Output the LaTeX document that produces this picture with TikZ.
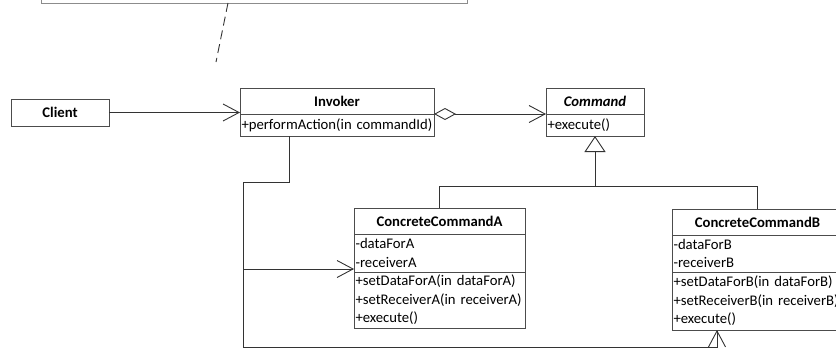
\documentclass[tikz,border=0pt]{standalone}
\usepackage{fontspec}
\setmainfont{Carlito}
\usetikzlibrary{positioning}
\usetikzlibrary{arrows.meta}
\tikzset{umlbox/.style={draw=black!70, line width=0.9pt, inner sep=0pt, outer sep=0pt,
   font=\fontsize{14.7}{18.5}\selectfont},
 classname/.style={umlbox, font=\fontsize{14.7}{18.5}\selectfont\bfseries,
   minimum height=26pt, minimum width=#1},
 members/.style={umlbox, align=left, inner xsep=1.5pt, text width=#1},
 link/.style={draw=black!80, line width=0.9pt},
 assoc/.style={link, -{Straight Barb[length=16pt,width=17pt]}},
 aggr/.style={link, {Diamond[open,length=22pt,width=12pt]}-{Straight Barb[length=16pt,width=17pt]}},
 inherit/.style={link, -{Triangle[open,length=16pt,width=21pt]}},
 memo/.style={draw=black!45, line width=0.9pt},
 }

\begin{document}
\begin{tikzpicture}[x=1pt, y=-1pt]
        \useasboundingbox (0,0) rectangle (836,348);
        \clip (0,0) rectangle (836,348);

        % note, cut off by the frame
        \node[memo, minimum width=426pt, minimum height=40pt] (note) at (254,-17) {};
        \coordinate (dashtop) at (228,3);
        \coordinate (dashend) at (216,62);
        \draw[link, dash pattern=on 9pt off 5pt] (dashtop) -- (dashend);

        \node[classname=98pt, minimum height=27pt] (client) at (60,112.5) {Client};

        \node[classname=194pt, anchor=north] (invname) at (337,88) {Invoker};
        \node[members=191pt, minimum height=22pt, below=0pt of invname] (invops) {+performAction(in commandId)};

        \node[classname=98pt, anchor=north] (cmdname) at (595,88) {\textit{Command}};
        \node[members=95pt, minimum height=22pt, below=0pt of cmdname] (cmdops) {+execute()};

        \node[classname=171pt, anchor=north] (ccaname) at (439.5,208) {ConcreteCommandA};
        \node[members=168pt, minimum height=38pt, below=0pt of ccaname] (ccaattr) {-dataForA\\-receiverA};
        \node[members=168pt, minimum height=56pt, below=0pt of ccaattr] (ccaops) {+setDataForA(in dataForA)\\+setReceiverA(in receiverA)\\+execute()};

        \node[classname=171pt, anchor=north] (ccbname) at (757.5,209) {ConcreteCommandB};
        \node[members=168pt, minimum height=37pt, below=0pt of ccbname] (ccbattr) {-dataForB\\-receiverB};
        \node[members=168pt, minimum height=58pt, below=0pt of ccbattr] (ccbops) {+setDataForB(in dataForB)\\+setReceiverB(in receiverB)\\+execute()};

        \draw[assoc] (client.east) -- (client.east -| invname.west);
        \draw[aggr] (invname.south east) -- (cmdname.south west);

        \coordinate (genjoin) at (595,186);
        \draw[inherit] (ccaname.north) |- (genjoin) -- (cmdops.south);
        \draw[link] (ccbname.north) |- (genjoin);

        \coordinate (bend) at (243,182);
        \coordinate (floor) at (243,347);
        \draw[assoc] ([xshift=-48pt]invops.south) |- (bend) |- ([yshift=-16pt]ccaattr.west);
        \draw[assoc] (bend) -- (floor) -| ([xshift=-40.5pt]ccbops.south);
    \end{tikzpicture}
\end{document}
